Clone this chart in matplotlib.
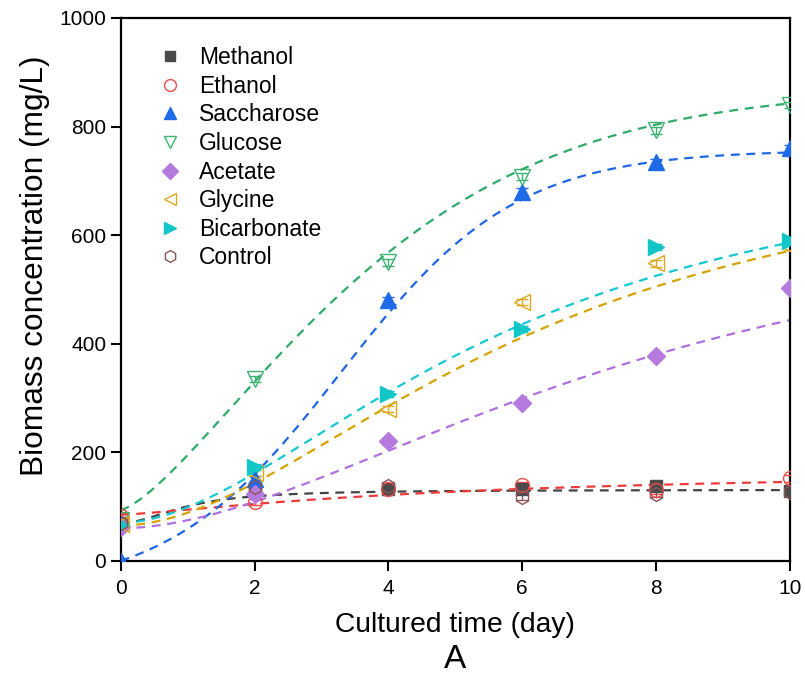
import numpy as np
import matplotlib
matplotlib.use("Agg")
import matplotlib.pyplot as plt

plt.rcParams['font.family'] = ['Liberation Sans', 'DejaVu Sans']

days = [0, 2, 4, 6, 8, 10]
series_names = ["Methanol", "Ethanol", "Saccharose", "Glucose",
                "Acetate", "Glycine", "Bicarbonate", "Control"]

methanol    = [70, 135, 133, 133, 138, 129]
ethanol     = [82, 108, 132, 140, 130, 152]
saccharose  = [0, 150, 480, 680, 735, 760]
glucose     = [75, 335, 550, 708, 793, 840]
acetate     = [62, 123, 220, 291, 377, 502]
glycine     = [68, 162, 280, 477, 548, 578]
bicarbonate = [66, 173, 307, 427, 578, 590]
control     = [70, 136, 138, 118, 124, 127]

errors = [6, 6, 6, 6, 6, 6]

# fitted-curve parameters
# logistic: A1, A2, x0, p ; boltzmann: A1, A2, x0, dx ; weibull: A1, A2, b, c
fit_methanol    = ("logistic", [70, 131, 1.0, 2.0])
fit_ethanol     = ("logistic", [85, 170, 5.0, 1.3])
fit_saccharose  = ("boltzmann", [-60, 757, 3.3, 1.3])
fit_glucose     = ("weibull", [94, 870, 4.17, 1.38])
fit_acetate     = ("logistic", [60, 700, 8.0, 1.8])
fit_glycine     = ("logistic", [65, 780, 6.2, 1.85])
fit_bicarbonate = ("logistic", [70, 780, 5.8, 1.8])
fit_control     = None

data = [methanol, ethanol, saccharose, glucose, acetate, glycine, bicarbonate, control]
fits = [fit_methanol, fit_ethanol, fit_saccharose, fit_glucose,
        fit_acetate, fit_glycine, fit_bicarbonate, fit_control]

colors = ["#4a4a4a", "#f24a4a", "#1f6ae6", "#3cb371",
          "#b57ade", "#dca81e", "#12c6c8", "#8b5555"]
line_colors = ["#444444", "#f03a3a", "#1f66e6", "#2eaa6a",
               "#b070e0", "#d6a200", "#14c8d2", None]
markers = ["s", "o", "^", "v", "D", "<", ">", "h"]
filled = [True, False, True, False, True, False, True, False]
msizes = [9, 10, 11, 11, 9, 11, 11, 10]


def model(kind, p, x):
    if kind == "logistic":
        A1, A2, x0, pw = p
        return A2 + (A1 - A2) / (1 + (x / x0) ** pw)
    if kind == "weibull":
        A1, A2, b, c = p
        return A2 - (A2 - A1) * np.exp(-(x / b) ** c)
    A1, A2, x0, dx = p
    return A2 + (A1 - A2) / (1 + np.exp((x - x0) / dx))


fig = plt.figure(figsize=(8.05, 6.79), dpi=100)
ax = fig.add_axes([0.150, 0.174, 0.831, 0.7995])

xs = np.linspace(0, 10, 300)
for name, y, fit, c, lc, m, f, ms in zip(series_names, data, fits, colors,
                                          line_colors, markers, filled, msizes):
    if fit is not None:
        ax.plot(xs, model(fit[0], fit[1], xs), ls=(0, (4, 3)), color=lc, lw=1.6, zorder=2)
    ax.errorbar(days, y, yerr=errors, fmt="none", ecolor=c, elinewidth=1.0,
                capsize=4, capthick=1.0, zorder=3)
    ax.plot(days, y, ls="none", marker=m, ms=ms,
            markerfacecolor=(c if f else "none"), markeredgecolor=c,
            markeredgewidth=1.0, label=name, zorder=4)

ax.set_xlim(0, 10)
ax.set_ylim(0, 1000)
ax.set_xticks([0, 2, 4, 6, 8, 10])
ax.set_yticks([0, 200, 400, 600, 800, 1000])
ax.tick_params(direction="out", length=7, width=1.5, labelsize=15)
ax.tick_params(axis="x", pad=6)
for s in ax.spines.values():
    s.set_linewidth(1.6)

ax.set_xlabel("Cultured time (day)", fontsize=20.3, labelpad=10)
ax.set_ylabel("Biomass concentration (mg/L)", fontsize=22.8)
ax.yaxis.set_label_coords(-0.106, 0.543)
fig.text(0.565, 0.028, "A", fontsize=24, ha="center", va="center")

leg = ax.legend(loc="upper left", bbox_to_anchor=(0.04, 0.965), frameon=False,
                fontsize=16.5, handletextpad=0.65, labelspacing=0.245,
                handlelength=1.2, borderaxespad=0.0, markerscale=0.85)

fig.savefig("out.png", dpi=100)
